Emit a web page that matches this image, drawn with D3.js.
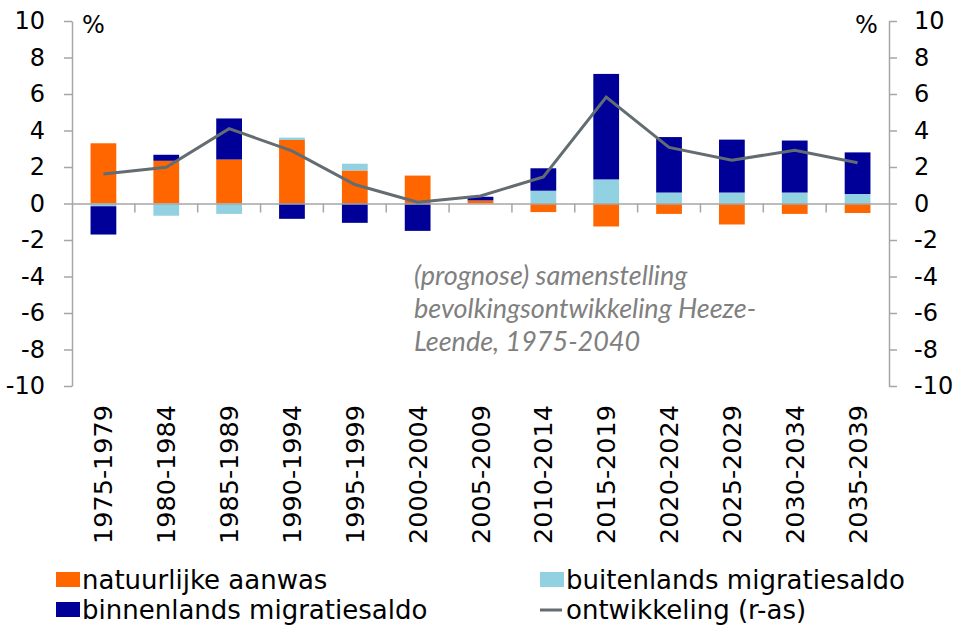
<!DOCTYPE html>
<html><head><meta charset="utf-8">
<script src="https://cdn.jsdelivr.net/npm/d3@7"></script>
<style>body{margin:0;background:#fff}svg{display:block}</style>
</head><body>
<svg id="c" width="961" height="625"></svg>
<script>
const categories = ["1975-1979","1980-1984","1985-1989","1990-1994","1995-1999","2000-2004","2005-2009","2010-2014","2015-2019","2020-2024","2025-2029","2030-2034","2035-2039"];
const natuurlijke = [3.3, 2.34, 2.41, 3.48, 1.81, 1.53, 0.17, -0.47, -1.26, -0.57, -1.15, -0.57, -0.52];
const buitenlands = [-0.15, -0.67, -0.57, 0.13, 0.37, 0.0, 0.0, 0.7, 1.32, 0.6, 0.6, 0.6, 0.52];
const binnenlands = [-1.55, 0.33, 2.25, -0.84, -1.06, -1.5, 0.2, 1.23, 5.78, 3.04, 2.9, 2.85, 2.28];
const ontwikkeling = [1.62, 1.99, 4.1, 2.88, 1.04, 0.07, 0.41, 1.46, 5.83, 3.07, 2.37, 2.92, 2.23];
const yTicks = [10, 8, 6, 4, 2, 0, -2, -4, -6, -8, -10];
const seriesNames = ["natuurlijke aanwas", "buitenlands migratiesaldo", "binnenlands migratiesaldo", "ontwikkeling (r-as)"];
const noteLines = ["(prognose) samenstelling", "bevolkingsontwikkeling Heeze-", "Leende, 1975-2040"];

const colors = {nat:"#ff6600", bui:"#92d1e2", bin:"#000099", line:"#626c71"};
const svg = d3.select("#c");
const L = 72, R = 889, T = 21, B = 386;
const x = d3.scaleBand().domain(categories).range([L, R]).paddingInner(0).paddingOuter(0);
const y = d3.scaleLinear().domain([-10, 10]).range([B, T]);
const y2 = d3.scaleLinear().domain([-10, 10]).range([B, T]);
const axisColor = "#a6a6a6";
const font = "DejaVu Sans, Verdana, sans-serif";
const fmt = d => String(d).replace("\u2212", "-");

// stacked bars (positive and negative stacked separately)
const keys = ["nat", "bui", "bin"];
const data = categories.map((c, i) => ({cat: c, nat: natuurlijke[i], bui: buitenlands[i], bin: binnenlands[i]}));
const stack = d3.stack().keys(keys).offset(d3.stackOffsetDiverging);
const layers = stack(data);
const bw = x.bandwidth() * 0.41;
svg.append("g").selectAll("g").data(layers).join("g")
  .attr("fill", d => colors[d.key])
  .selectAll("rect").data(d => d).join("rect")
  .attr("x", d => x(d.data.cat) + (x.bandwidth() - bw) / 2)
  .attr("width", bw)
  .attr("y", d => y(Math.max(d[0], d[1])))
  .attr("height", d => Math.abs(y(d[0]) - y(d[1])));

// zero line with category ticks
const gx = svg.append("g").attr("transform", `translate(0,${y(0)})`)
  .call(d3.axisBottom(x).tickSize(0).tickFormat(""));
gx.select(".domain").attr("stroke", axisColor).attr("stroke-width", 1.5);
gx.selectAll(".tick").remove();
svg.append("g").selectAll("line").data(categories.slice(1)).join("line")
  .attr("x1", d => x(d)).attr("x2", d => x(d))
  .attr("y1", y(0)).attr("y2", y(0) + 9)
  .attr("stroke", axisColor).attr("stroke-width", 1.5);

// category labels
svg.append("g").selectAll("text").data(categories).join("text")
  .attr("transform", d => `translate(${x(d) + x.bandwidth() / 2 + 9},405) rotate(-90)`)
  .attr("text-anchor", "end")
  .attr("font-family", font).attr("font-size", 25.5).attr("fill", "#000")
  .text(d => d);

// left axis
const gl = svg.append("g").attr("transform", `translate(${L},0)`)
  .call(d3.axisLeft(y).tickValues(yTicks).tickSize(8).tickPadding(19).tickSizeOuter(0).tickFormat(fmt));
gl.select(".domain").attr("stroke", axisColor).attr("stroke-width", 1.5);
gl.selectAll(".tick line").attr("stroke", axisColor).attr("stroke-width", 1.5);
gl.selectAll(".tick text").attr("font-family", font).attr("font-size", 24).attr("fill", "#000");

// right axis
const gr = svg.append("g").attr("transform", `translate(${R},0)`)
  .call(d3.axisRight(y2).tickValues(yTicks).tickSize(8).tickPadding(17).tickSizeOuter(0).tickFormat(fmt));
gr.select(".domain").attr("stroke", axisColor).attr("stroke-width", 1.5);
gr.selectAll(".tick line").attr("stroke", axisColor).attr("stroke-width", 1.5);
gr.selectAll(".tick text").attr("font-family", font).attr("font-size", 24).attr("fill", "#000");

// % labels
svg.append("text").attr("x", 82).attr("y", 33).attr("font-family", font).attr("font-size", 24).text("%");
svg.append("text").attr("x", 855).attr("y", 33).attr("font-family", font).attr("font-size", 24).text("%");

// line
const line = d3.line().x((d, i) => x(categories[i]) + x.bandwidth() / 2).y(d => y2(d));
svg.append("path").datum(ontwikkeling).attr("d", line)
  .attr("fill", "none").attr("stroke", colors.line).attr("stroke-width", 3);

// annotation
svg.append("g").selectAll("text").data(noteLines).join("text")
  .attr("x", 414).attr("y", (d, i) => 285 + i * 33)
  .attr("font-family", "Lato, sans-serif").attr("font-style", "italic")
  .attr("font-size", 27).attr("fill", "#808080")
  .text(d => d);

// legend
const leg = [
  {name: seriesNames[0], type: "rect", color: colors.nat, x: 56, y: 589},
  {name: seriesNames[1], type: "rect", color: colors.bui, x: 540, y: 589},
  {name: seriesNames[2], type: "rect", color: colors.bin, x: 56, y: 619},
  {name: seriesNames[3], type: "line", color: colors.line, x: 540, y: 619}
];
const lg = svg.append("g").selectAll("g").data(leg).join("g");
lg.filter(d => d.type === "rect").append("rect")
  .attr("x", d => d.x).attr("y", d => d.y - 17).attr("width", 24).attr("height", 15)
  .attr("fill", d => d.color);
lg.filter(d => d.type === "line").append("line")
  .attr("x1", d => d.x).attr("x2", d => d.x + 22).attr("y1", d => d.y - 9).attr("y2", d => d.y - 9)
  .attr("stroke", d => d.color).attr("stroke-width", 3);
lg.append("text").attr("x", d => d.x + 26).attr("y", d => d.y)
  .attr("font-family", font).attr("font-size", 26).attr("fill", "#000")
  .text(d => d.name);
</script>
</body></html>
